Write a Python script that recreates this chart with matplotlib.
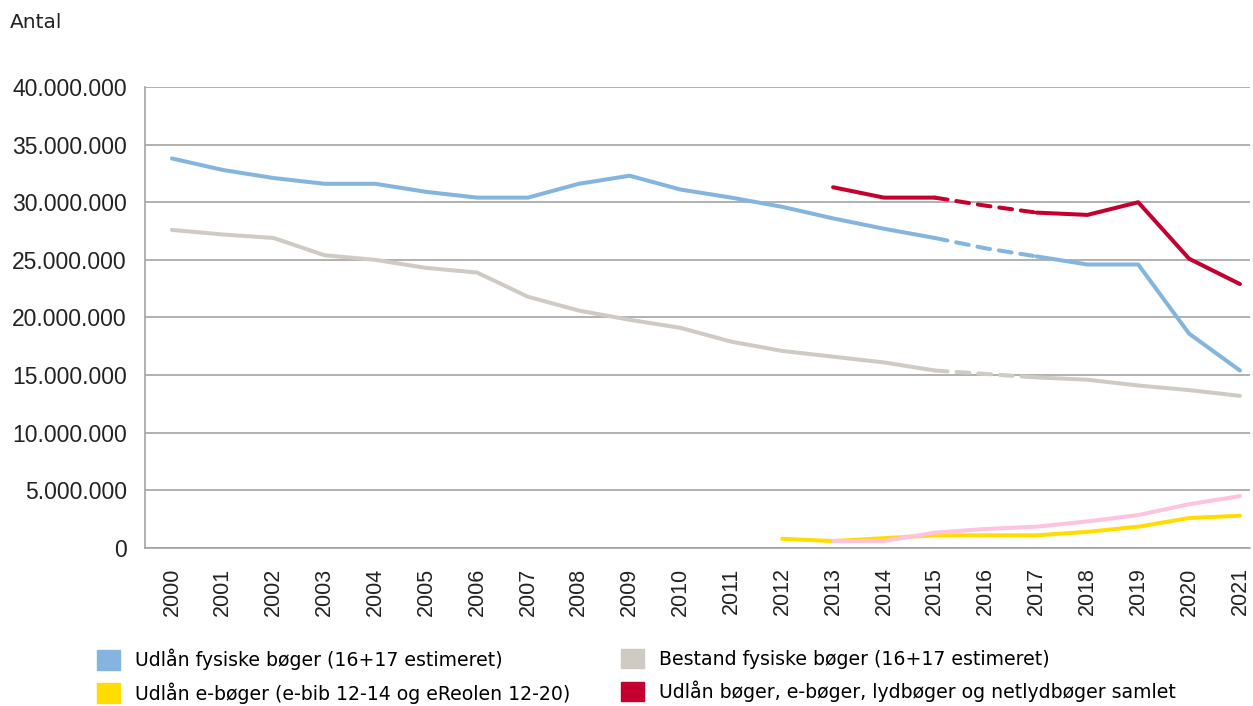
import matplotlib
matplotlib.use("Agg")
import matplotlib.pyplot as plt
from matplotlib.patches import Patch
from matplotlib.ticker import FuncFormatter
import numpy as np

plt.rcParams['font.family'] = ['Liberation Sans', 'DejaVu Sans']

# years on the x axis
years = [str(y) for y in range(2000, 2022)]

# series values in millions
udlaan_fysiske = [33.8, 32.8, 32.1, 31.6, 31.6, 30.9, 30.4, 30.4, 31.6, 32.3, 31.1,
                  30.4, 29.6, 28.6, 27.7, 26.9, 26.0, 25.3, 24.6, 24.6, 18.6, 15.4]
bestand_fysiske = [27.6, 27.2, 26.9, 25.4, 25.0, 24.3, 23.9, 21.8, 20.6, 19.8, 19.1,
                   17.9, 17.1, 16.6, 16.1, 15.4, 15.1, 14.8, 14.6, 14.1, 13.7, 13.2]
udlaan_samlet = [None] * 13 + [31.3, 30.4, 30.4, 29.7, 29.1, 28.9, 30.0, 25.1, 22.9]
udlaan_eboger = [None] * 12 + [0.8, 0.6, 0.85, 1.1, 1.1, 1.1, 1.4, 1.85, 2.6, 2.8]
udlaan_lyd = [None] * 13 + [0.6, 0.6, 1.33, 1.65, 1.85, 2.3, 2.86, 3.8, 4.5]

# estimated years are drawn dashed (2015-2017)
est_start, est_end = 15, 17

legend_labels = ["Udlån fysiske bøger (16+17 estimeret)",
                 "Bestand fysiske bøger (16+17 estimeret)",
                 "Udlån e-bøger (e-bib 12-14 og eReolen 12-20)",
                 "Udlån bøger, e-bøger, lydbøger og netlydbøger samlet"]

c_blue = "#84b5df"
c_gray = "#cfcbc4"
c_yellow = "#ffdd00"
c_red = "#c4002f"
c_pink = "#ffc2df"

fig = plt.figure(figsize=(12.53, 7.06), dpi=100)
ax = fig.add_axes([0.1157, 0.2238, 0.882, 0.653])

x = np.arange(len(years))
lw = 2.9


def to_arr(vals):
    return np.array([np.nan if v is None else v * 1e6 for v in vals])


def draw(vals, color, dashed_part=False, z=3):
    y = to_arr(vals)
    if not dashed_part:
        ax.plot(x, y, color=color, lw=lw, solid_capstyle='round', zorder=z)
        return
    y1 = y.copy(); y1[est_start + 1:] = np.nan
    y2 = y.copy(); y2[:est_end] = np.nan
    y3 = np.full_like(y, np.nan); y3[est_start:est_end + 1] = y[est_start:est_end + 1]
    ax.plot(x, y1, color=color, lw=lw, solid_capstyle='round', zorder=z)
    ax.plot(x, y2, color=color, lw=lw, solid_capstyle='round', zorder=z)
    ax.plot(x, y3, color=color, lw=lw, dashes=(3.2, 2.2), dash_capstyle='round', zorder=z)


draw(bestand_fysiske, c_gray, True)
draw(udlaan_fysiske, c_blue, True)
draw(udlaan_samlet, c_red, True)
draw(udlaan_eboger, c_yellow)
draw(udlaan_lyd, c_pink, z=4)

ax.set_xlim(-0.53, 21.2)
ax.set_ylim(0, 40e6)
ax.set_yticks(np.arange(0, 40e6 + 1, 5e6))
ax.yaxis.set_major_formatter(FuncFormatter(lambda v, p: f"{int(v):,}".replace(",", ".")))
ax.set_xticks(x)
ax.set_xticklabels(years, rotation=90)
ax.tick_params(axis='y', length=0, labelsize=16.5, pad=13, colors='#222222')
ax.tick_params(axis='x', length=0, labelsize=15.5, pad=14, colors='#222222')

ax.grid(axis='y', color='#a3a3a3', lw=1.2, zorder=0)
for s in ['top', 'right']:
    ax.spines[s].set_visible(False)
for s in ['left', 'bottom']:
    ax.spines[s].set_color('#a3a3a3')
    ax.spines[s].set_linewidth(1.2)

fig.text(0.008, 0.968, "Antal", fontsize=14.5, va='center', ha='left', color='#222222',
         family=['DejaVu Sans'])

# legend: two columns, placed separately
handles = [Patch(color=c) for c in [c_blue, c_yellow, c_gray, c_red]]
leg_kw = dict(loc='upper left', frameon=False, handlelength=1.2,
              handleheight=1.2, handletextpad=0.8, labelspacing=0.62,
              borderaxespad=0, borderpad=0, prop={'family': 'DejaVu Sans', 'size': 13.6})
leg1 = fig.legend(handles[:2], [legend_labels[0], legend_labels[2]],
                  bbox_to_anchor=(0.0774, 0.081), **leg_kw)
leg2 = fig.legend(handles[2:], [legend_labels[1], legend_labels[3]],
                  bbox_to_anchor=(0.4956, 0.081), **leg_kw)

fig.savefig("out.png", dpi=100)
